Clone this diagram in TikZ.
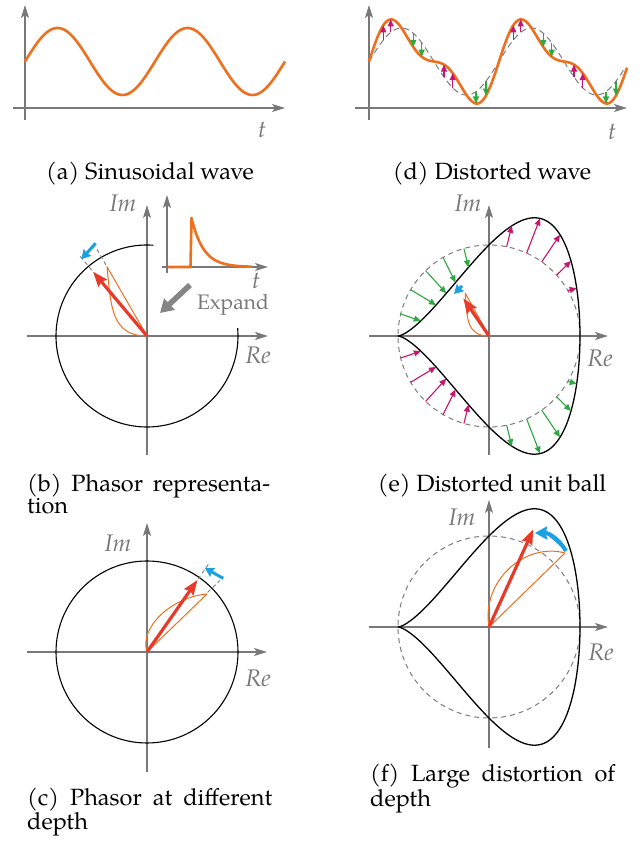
\documentclass[tikz,border=0pt]{standalone}
\usepackage{fontspec}
\setmainfont{TeX Gyre Pagella}
\usetikzlibrary{arrows.meta}
\definecolor{axgray}{RGB}{120,120,120}
\definecolor{cOr}{RGB}{238,112,30}
\definecolor{cRed}{RGB}{232,58,42}
\definecolor{cBlue}{RGB}{28,160,225}
\definecolor{cMag}{RGB}{198,22,110}
\definecolor{cGrn}{RGB}{44,170,64}
\definecolor{cDash}{RGB}{125,125,125}
\tikzset{
 axisline/.style={draw=axgray,line width=1.4pt,-{Stealth[length=13pt,width=8pt,inset=3pt]}},
 wave/.style={draw=cOr,line width=2.6pt,line join=round},
 loopc/.style={draw=cOr,line width=1pt,line join=round},
 circ/.style={draw=black,line width=1.1pt},
 ballc/.style={draw=black,line width=1.3pt,line join=round},
 dcirc/.style={draw=cDash,line width=1pt,dash pattern=on 5pt off 4pt},
 dwave/.style={draw=cDash,line width=1pt,dash pattern=on 6pt off 4pt},
 dtick/.style={draw=cDash,line width=0.9pt,dash pattern=on 4pt off 3pt},
 redarr/.style={draw=cRed,fill=cRed,line width=3.2pt,-{Stealth[length=15pt,width=11pt,inset=2pt]}},
 bluearr/.style={draw=cBlue,fill=cBlue,line width=3pt,-{Stealth[length=9pt,width=10pt,inset=1pt]}},
 smarr/.style={line width=1.1pt,-{Triangle[length=7pt,width=6pt]}},
 exparr/.style={draw=axgray!90,line width=5.5pt,-{Triangle[length=13pt,width=15pt]}},
 lab/.style={text=axgray,inner sep=0pt,font=\fontsize{24}{24}\selectfont\itshape},
 explab/.style={text=axgray,inner sep=0pt,font=\fontsize{21}{21}\selectfont},
 captxt/.style={inner sep=0pt,font=\fontsize{23.5}{22}\selectfont},
}
\begin{document}
\begin{tikzpicture}[x=1pt,y=1pt]
\useasboundingbox (0,0) rectangle (640,841);
\fill[white] (0,0) rectangle (640,841);

% ---------- (a) sinusoidal wave
\begin{scope}[shift={(25,733)}]
 \coordinate (ax0) at (-12,0); \coordinate (ax1) at (260,0);
 \coordinate (ay0) at (0,-12); \coordinate (ay1) at (0,103);
 \draw[axisline] (ax0) -- (ax1);
 \draw[axisline] (ay0) -- (ay1);
 \draw[wave] plot[domain=0:260,samples=150] (\x,{46.5+33.5*sin(\x*2.76923)});
 \node[lab] (at) at (237,-22) {t};
\end{scope}
\node[captxt,anchor=base] (capa) at (150,661) {(a) Sinusoidal wave};

% ---------- (d) distorted wave
\begin{scope}[shift={(369,733)}]
 \coordinate (dx0) at (-14,0); \coordinate (dx1) at (258,0);
 \coordinate (dy0) at (0,-12); \coordinate (dy1) at (0,103);
 \draw[axisline] (dx0) -- (dx1);
 \draw[axisline] (dy0) -- (dy1);
 \draw[dwave] plot[domain=0:256,samples=150] (\x,{46.5+33.5*sin(\x*2.76923)});
 \draw[wave] plot[domain=0:258,samples=220] (\x,{46.5+33.5*(sin(\x*2.76923)+0.45*sin(\x*5.53846))});
 \foreach \u/\c in {14.3/cMag,21.7/cMag,44.3/cGrn,52.7/cGrn,75/cMag,83.7/cMag,107/cGrn,117/cGrn,
                    144.3/cMag,151.7/cMag,174.3/cGrn,182.7/cGrn,205/cMag,213.7/cMag,237/cGrn,247/cGrn}{
   \coordinate (ds) at (\u,{46.5+33.5*sin(\u*2.76923)});
   \coordinate (de) at (\u,{46.5+33.5*(sin(\u*2.76923)+0.45*sin(\u*5.53846))});
   \draw[smarr,draw=\c,fill=\c] (ds) -- (de);
 }
 \node[lab] (dt) at (243,-24) {t};
\end{scope}
\node[captxt,anchor=base] (capd) at (492,661) {(d) Distorted wave};

% ---------- (b) phasor representation
\begin{scope}[shift={(147,505)}]
 \coordinate (bx0) at (-120,0); \coordinate (bx1) at (121,0);
 \coordinate (by0) at (0,-119); \coordinate (by1) at (0,131);
 \draw[axisline] (bx0) -- (bx1);
 \draw[axisline] (by0) -- (by1);
 \draw[circ] (86:91) arc[start angle=86,end angle=365,radius=91];
 \draw[dtick] (130:86) -- (130:107);
 \draw[dtick] (120:82) -- (120:103);
 \draw[loopc] (0,0) -- (120:80) .. controls (-36,30) and (-36,0) .. (0,0);
 \coordinate (bo) at (0,0); \coordinate (bp) at (130:84);
 \draw[redarr] (bo) -- (bp);
 \coordinate (bb0) at (119:106); \coordinate (bb1) at (130.5:101);
 \draw[bluearr] (bb0) -- (bb1);
 % inset
 \coordinate (ix0) at (15,69); \coordinate (ix1) at (121,69);
 \coordinate (iy0) at (20,63); \coordinate (iy1) at (20,141);
 \draw[axisline] (ix0) -- (ix1);
 \draw[axisline] (iy0) -- (iy1);
 \draw[wave] (21,69) -- (43.5,69) -- (44.5,118) -- plot[domain=44.5:105,samples=50] (\x,{69+49*exp(-(\x-44.5)/12)});
 \node[lab,anchor=base] (bt) at (109,47) {t};
 \node[explab,anchor=base] (bexp) at (86,26.5) {Expand};
 \coordinate (be0) at (43,51); \coordinate (be1) at (13,23);
 \draw[exparr] (be0) -- (be1);
 \node[lab] (bim) at (-24,133) {Im};
 \node[lab] (bre) at (111,-19) {Re};
\end{scope}
\node[captxt,anchor=base west] (capb) at (27,349.3)
  {\parbox[t]{243pt}{\makebox[243pt][s]{(b) Phasor representa-}\\tion}};

% ---------- (c) phasor at different depth
\begin{scope}[shift={(147,189)}]
 \coordinate (cx0) at (-120,0); \coordinate (cx1) at (120,0);
 \coordinate (cy0) at (0,-120); \coordinate (cy1) at (0,129);
 \draw[axisline] (cx0) -- (cx1);
 \draw[axisline] (cy0) -- (cy1);
 \draw[circ] (0,0) circle[radius=91];
 \draw[dtick] (55:89) -- (55:107);
 \draw[dtick] (44.5:85) -- (44.5:102);
 \draw[loopc] (0,0) -- (60,58) .. controls (25,55) and (-8,25) .. (0,0);
 \coordinate (co) at (0,0); \coordinate (cp) at (55:88);
 \draw[redarr] (co) -- (cp);
 \coordinate (cb0) at (44:106); \coordinate (cb1) at (55.5:102);
 \draw[bluearr] (cb0) -- (cb1);
 \node[lab] (cim) at (-29,109) {Im};
 \node[lab] (cre) at (111,-26) {Re};
\end{scope}
\node[captxt,anchor=base west] (capc) at (27,35)
  {\parbox[t]{245pt}{\makebox[245pt][s]{(c) Phasor at different}\\depth}};

% ---------- (e) distorted unit ball
\begin{scope}[shift={(489,505)}]
 \coordinate (ex0) at (-120,0); \coordinate (ex1) at (119,0);
 \coordinate (ey0) at (0,-119); \coordinate (ey1) at (0,131);
 \draw[axisline] (ex0) -- (ex1);
 \draw[axisline] (ey0) -- (ey1);
 \draw[dcirc] (0,0) circle[radius=91];
 \draw[ballc] plot[domain=0:360,samples=201] ({91*cos(\x)},{91*(sin(\x)+0.5*sin(2*\x))}) -- cycle;
 \foreach \f/\p/\c in {78.8/75.5/cMag,65.6/55.9/cMag,54.6/38.7/cMag,42/25.7/cMag,30/15.5/cMag,
                       -78.8/-75.5/cGrn,-65.6/-55.9/cGrn,-54.6/-38.7/cGrn,-42/-25.7/cGrn,-30/-15.5/cGrn,
                       106/103/cGrn,120.3/111.6/cGrn,134.1/118/cGrn,149.4/125.6/cGrn,166/138.5/cGrn,
                       -106/-103/cMag,-120.3/-111.6/cMag,-134.1/-118/cMag,-149.4/-125.6/cMag,-166/-138.5/cMag}{
   \coordinate (es) at (\f:91);
   \coordinate (ee) at ({91*cos(\p)},{91*(sin(\p)+0.5*sin(2*\p))});
   \draw[smarr,draw=\c,fill=\c] (es) -- (ee);
 }
 \draw[loopc] (0,0) -- (119:49) .. controls (-22,17) and (-22,0) .. (0,0);
 \coordinate (eo) at (0,0); \coordinate (ep) at (-25.7,37.7);
 \draw[redarr] (eo) -- (ep);
 \coordinate (eb0) at (-27,50); \coordinate (eb1) at (-35,42);
 \draw[bluearr] (eb0) -- (eb1);
 \node[lab] (eim) at (-21,133) {Im};
 \node[lab] (ere) at (111,-22) {Re};
\end{scope}
\node[captxt,anchor=base] (cape) at (492,349.3) {(e) Distorted unit ball};

% ---------- (f) large distortion of depth
\begin{scope}[shift={(489,214)}]
 \coordinate (fx0) at (-120,0); \coordinate (fx1) at (119,0);
 \coordinate (fy0) at (0,-121); \coordinate (fy1) at (0,127);
 \draw[axisline] (fx0) -- (fx1);
 \draw[axisline] (fy0) -- (fy1);
 \draw[dcirc] (0,0) circle[radius=91];
 \draw[ballc] plot[domain=0:360,samples=201] ({91*cos(\x)},{91*(sin(\x)+0.5*sin(2*\x))}) -- cycle;
 \draw[loopc] (0,0) -- (76,74) .. controls (35,85) and (-8,45) .. (0,0);
 \coordinate (fo) at (0,0); \coordinate (fp) at (44.3,97.7);
 \draw[redarr] (fo) -- (fp);
 \coordinate (fb0) at (77,76); \coordinate (fb1) at (46,94);
 \draw[bluearr,line width=4pt,-{Stealth[length=12pt,width=13pt,inset=1pt]}] (fb0) .. controls (70,88) and (60,94) .. (fb1);
 \node[lab] (fim) at (-27,110) {Im};
 \node[lab] (fre) at (112,-25) {Re};
\end{scope}
\node[captxt,anchor=base west] (capf) at (370,59.3)
  {\parbox[t]{245pt}{\makebox[245pt][s]{(f) Large distortion of}\\depth}};
\end{tikzpicture}
\end{document}
